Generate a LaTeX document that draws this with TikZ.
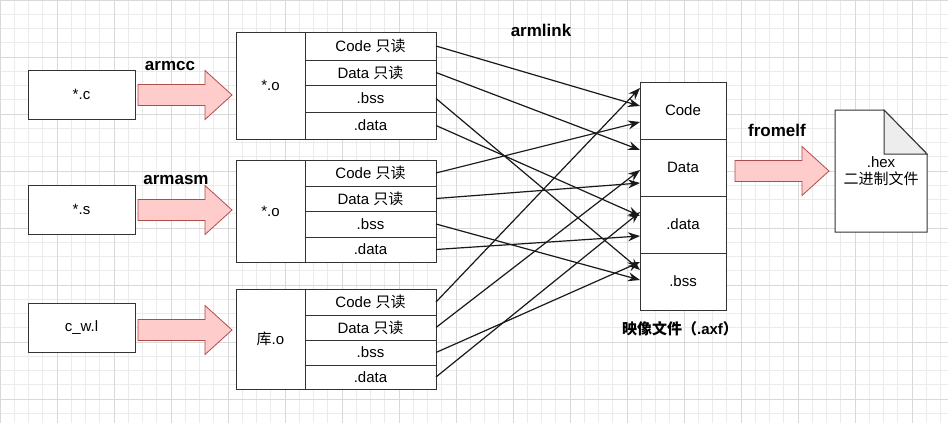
\documentclass[tikz,border=0pt]{standalone}
\usepackage{fontspec}
\setmainfont{Liberation Sans}
\newfontfamily\cjk{Noto Sans CJK SC}
\usetikzlibrary{arrows.meta}
\newcommand\myfat[2]{\draw[fatst] (#1,#2-10.5) -- ++(67,0) -- ++(0,-14) -- ++(27,24.5) -- ++(-27,24.5) -- ++(0,-14) -- ++(-67,0) -- cycle;}
\begin{document}
\begin{tikzpicture}[x=1pt,y=-1pt,
  every node/.style={font=\fontsize{15}{17}\selectfont},
  bx/.style={draw=black!80,line width=1pt,fill=white},
  lbl/.style={font=\fontsize{17}{19}\selectfont\bfseries},
  fatst/.style={draw=red!55!black!70,fill=red!20,line width=0.8pt},
  con/.style={-{Stealth[length=12pt,width=9pt,inset=4pt]},line width=1.2pt,black!90}]
\useasboundingbox (0,0) rectangle (948,423);
\fill[white] (0,0) rectangle (948,423);
\draw[black!8,line width=0.6pt] (0,0) grid[step=14.25pt] (948,423);
\draw[black!15,line width=0.8pt] (-14.25,0) grid[step=57pt] (948,423);
% sources
\node[bx,minimum width=107pt,minimum height=49pt] (c) at (81.5,94.5) {*.c};
\node[bx,minimum width=107pt,minimum height=49pt] (s) at (81.5,209.5) {*.s};
\node[bx,minimum width=107pt,minimum height=49pt] (l) at (81.5,328) {c\_w.l};
% fat arrows
\myfat{138}{95}
\myfat{138}{210}
\myfat{138}{330}
\node[lbl] (t1) at (170,66) {armcc};
\node[lbl] (t2) at (176,180) {armasm};
% object groups
\foreach \g/\ya/\yb/\yc/\yd/\ye/\nm in {1/32/60/85/112/139/{*.o},2/160/186/211/237/262/{*.o},3/289/315/340/365/389/{\cjk 库}.o}{
  \draw[bx] (236,\ya) rectangle (436,\ye);
  \draw[black!80,line width=1pt] (305,\ya) -- (305,\ye) (305,\yb) -- (436,\yb) (305,\yc) -- (436,\yc) (305,\yd) -- (436,\yd);
  \node (o\g) at (270.5,{(\ya+\ye)/2}) {\nm};
  \node (code\g) at (370.5,{(\ya+\yb)/2}) {Code {\cjk 只读}};
  \node (data\g) at (370.5,{(\yb+\yc)/2}) {Data {\cjk 只读}};
  \node (bss\g) at (370.5,{(\yc+\yd)/2}) {.bss};
  \node (dat\g) at (370.5,{(\yd+\ye)/2}) {.data};
  \coordinate (rc\g) at (436,{(\ya+\yb)/2});
  \coordinate (rd\g) at (436,{(\yb+\yc)/2});
  \coordinate (rb\g) at (436,{(\yc+\yd)/2});
  \coordinate (rt\g) at (436,{(\yd+\ye)/2});
}
% axf
\draw[bx] (640,82) rectangle (726,310);
\draw[black!80,line width=1pt] (640,139) -- (726,139) (640,196) -- (726,196) (640,253) -- (726,253);
\node (xcode) at (683,110.5) {Code};
\node (xdata) at (683,167.5) {Data};
\node (xdat) at (683,224.5) {.data};
\node (xbss) at (683,281.5) {.bss};
\node[font=\fontsize{15}{17}\selectfont\bfseries] (axf) at (680,329) {{\cjk\bfseries 映像文件（}.axf{\cjk\bfseries ）}};
\node[lbl] (lk) at (541,30) {armlink};
\foreach \a/\y in {rc1/106,rd1/150,rb1/270,rt1/216,rc2/122,rd2/183,rb2/280,rt2/236,rc3/88,rd3/170,rb3/262,rt3/212}
  \draw[con] (\a) -- (640,\y);
% fromelf
\myfat{735}{171}
\node[lbl] (fe) at (777,130) {fromelf};
\draw[bx] (835,110) -- (884,110) -- (927,154) -- (927,232) -- (835,232) -- cycle;
\draw[black!80,line width=1pt,fill=black!7] (884,110) -- (884,154) -- (927,154) -- cycle;
\node[align=center] (hex) at (881,171) {.hex\\{\cjk 二进制文件}};
\end{tikzpicture}
\end{document}
